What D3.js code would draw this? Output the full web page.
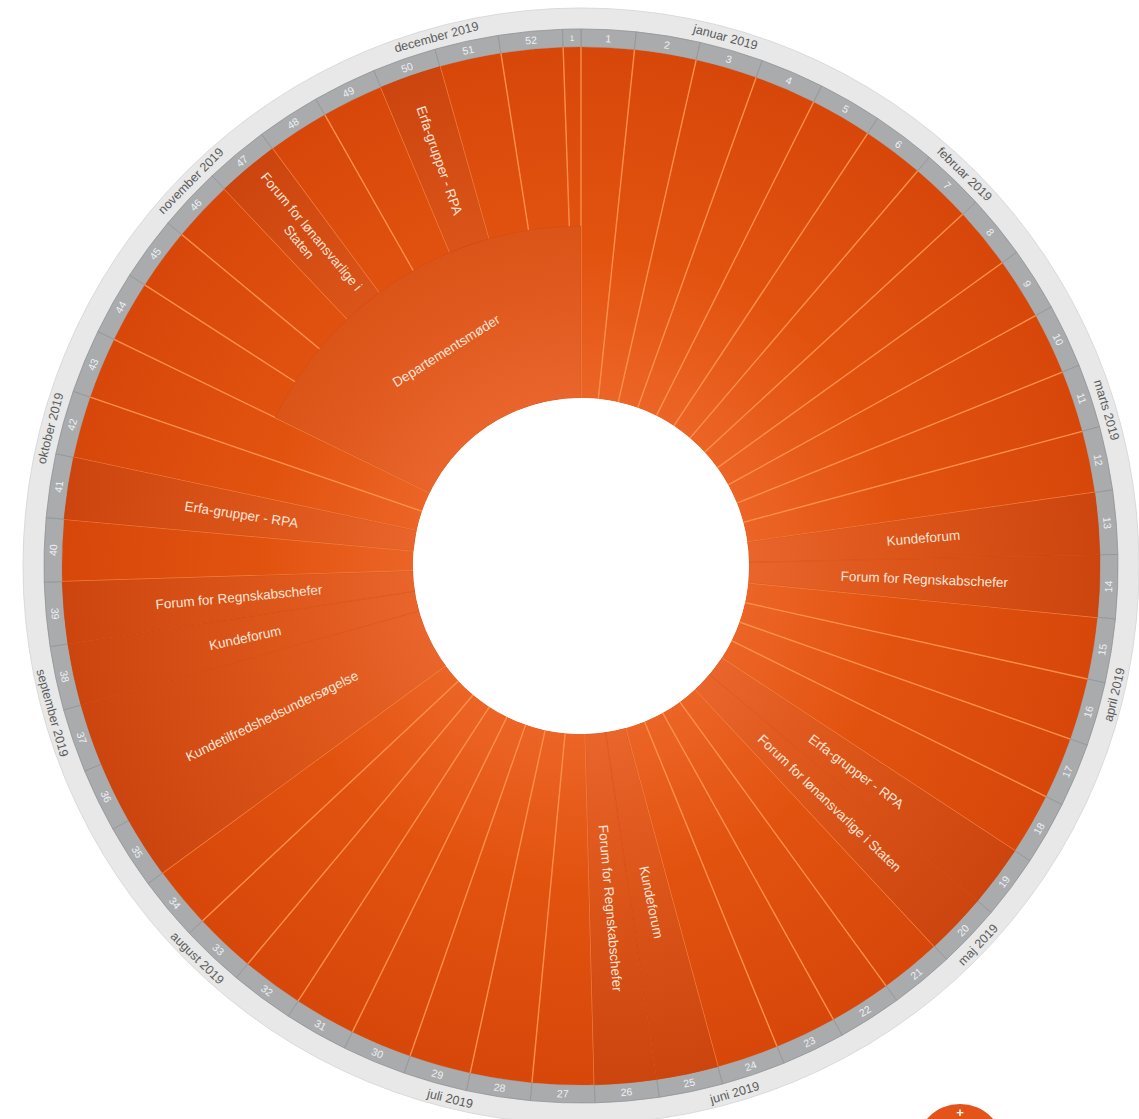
<!DOCTYPE html>
<html>
<head>
<meta charset="utf-8">
<script src="https://cdnjs.cloudflare.com/ajax/libs/d3/7.8.5/d3.min.js"></script>
<style>
  body { margin: 0; background: #fff; }
  svg { display: block; font-family: "Liberation Sans", Arial, sans-serif; }
</style>
</head>
<body>
<svg class="svg" width="1139" height="1119"></svg>
<script>
// årshjul 2019
let months = ['januar 2019','februar 2019','marts 2019','april 2019','maj 2019','juni 2019',
    'juli 2019','august 2019','september 2019','oktober 2019','november 2019','december 2019'];

let eventNames = ['Kundeforum','Forum for Regnskabschefer','Erfa-grupper - RPA','Forum for lønansvarlige i Staten',
    'Kundeforum','Forum for Regnskabschefer','Kundetilfredshedsundersøgelse','Kundeforum',
    'Forum for Regnskabschefer','Erfa-grupper - RPA','Departementsmøder','Forum for lønansvarlige i Staten',
    'Erfa-grupper - RPA'];
let eventStart = ['2019-03-25','2019-04-01','2019-05-06','2019-05-13','2019-06-17','2019-06-24','2019-08-26',
    '2019-09-16','2019-09-23','2019-10-07','2019-10-28','2019-11-18','2019-12-09'];
let eventEnd = ['2019-03-31','2019-04-07','2019-05-12','2019-05-19','2019-06-23','2019-06-30','2019-09-15',
    '2019-09-22','2019-09-29','2019-10-13','2019-12-31','2019-11-24','2019-12-15'];

let cx = 581, cy = 566;
let rInner = 168, rOuter = 519, rWeek = 537, rMonth = 558;

let parse = d3.utcParse('%Y-%m-%d');
let yearStart = parse('2019-01-01'), yearEnd = parse('2020-01-01');
let nDays = d3.utcDay.count(yearStart, yearEnd);
let angle = d3.scaleLinear().domain([0, nDays]).range([0, 2 * Math.PI]);
let dayOf = d => d3.utcDay.count(yearStart, d);

// weeks (ISO) clipped to the year
let mondays = d3.utcMonday.range(yearStart, yearEnd);
let weekStarts = [yearStart].concat(mondays.filter(d => +d !== +yearStart));
let weeks = weekStarts.map((d, i) => ({
    num: +d3.utcFormat('%V')(d),
    s: dayOf(d),
    e: i < weekStarts.length - 1 ? dayOf(weekStarts[i + 1]) : nDays
}));

let monthArr = d3.utcMonth.range(yearStart, yearEnd).map((d, i) => ({
    name: months[i], s: dayOf(d), e: dayOf(d3.utcMonth.offset(d, 1))
}));

let events = eventNames.map((n, i) => ({
    name: n, s: dayOf(parse(eventStart[i])), e: dayOf(parse(eventEnd[i])) + 1
}));
// overlapping events share the ring: the longest goes inside
let rSplit = 340;
events.forEach(ev => {
    let others = events.filter(o => o !== ev && o.s < ev.e && ev.s < o.e);
    if (others.length === 0) { ev.r0 = rInner; ev.r1 = rOuter; }
    else if (others.every(o => (o.e - o.s) < (ev.e - ev.s))) { ev.r0 = rInner; ev.r1 = rSplit; }
    else { ev.r0 = rSplit; ev.r1 = rOuter; }
});

let svg = d3.select('.svg');
let defs = svg.append('defs');

function radialGrad(id, stops) {
    let g = defs.append('radialGradient').attr('id', id).attr('gradientUnits', 'userSpaceOnUse')
        .attr('cx', 0).attr('cy', 0).attr('r', rOuter);
    stops.forEach(s => g.append('stop').attr('offset', s[0]).attr('stop-color', s[1]));
}
radialGrad('baseGrad', [[0.32, '#ec6526'], [0.62, '#e2520f'], [1, '#d7470a']]);
radialGrad('evGrad', [[0.32, '#e9652c'], [0.62, '#dc5519'], [1, '#cc450f']]);

let g = svg.append('g').attr('transform', 'translate(' + cx + ',' + cy + ')');
let arc = d3.arc();

// month ring
g.append('path')
    .attr('d', arc({innerRadius: rWeek, outerRadius: rMonth, startAngle: 0, endAngle: 2 * Math.PI}))
    .attr('fill', '#e8e8e8').attr('stroke', '#dadada');

// week ring
g.selectAll('.weekCell').data(weeks).enter().append('path')
    .attr('class', 'weekCell')
    .attr('d', d => arc({innerRadius: rOuter, outerRadius: rWeek, startAngle: angle(d.s), endAngle: angle(d.e)}))
    .attr('fill', '#a9abad').attr('stroke', '#929598').attr('stroke-width', 0.8);

// orange week sectors
g.selectAll('.weekSector').data(weeks).enter().append('path')
    .attr('class', 'weekSector')
    .attr('d', d => arc({innerRadius: rInner, outerRadius: rOuter, startAngle: angle(d.s), endAngle: angle(d.e)}))
    .attr('fill', 'url(#baseGrad)');

// week separator lines
g.selectAll('.weekLine').data(weeks).enter().append('line')
    .attr('class', 'weekLine')
    .attr('x1', d => rInner * Math.sin(angle(d.s)))
    .attr('y1', d => -rInner * Math.cos(angle(d.s)))
    .attr('x2', d => rOuter * Math.sin(angle(d.s)))
    .attr('y2', d => -rOuter * Math.cos(angle(d.s)))
    .attr('stroke', '#fb8f4a').attr('stroke-width', 1.4);

// events
g.selectAll('.event').data(events).enter().append('path')
    .attr('class', 'event')
    .attr('d', d => arc({innerRadius: d.r0, outerRadius: d.r1, startAngle: angle(d.s), endAngle: angle(d.e)}))
    .attr('fill', 'url(#evGrad)').attr('stroke', '#c9430f').attr('stroke-width', 0.6).attr('stroke-opacity', 0.5);

function deg(a) { return a * 180 / Math.PI; }
function tangentRot(a) { let d = deg(a); return (d > 90 && d < 270) ? d - 180 : d; }
function radialRot(a) { let d = deg(a); return d < 180 ? d - 90 : d + 90; }
function place(sel, r, a, rot) {
    sel.attr('transform', 'translate(' + (r * Math.sin(a)) + ',' + (-r * Math.cos(a)) + ') rotate(' + rot + ')');
}

// event labels
events.forEach(ev => {
    let a = angle((ev.s + ev.e) / 2);
    let rm = (ev.r0 + ev.r1) / 2;
    let arcLen = rm * (angle(ev.e) - angle(ev.s));
    let radLen = ev.r1 - ev.r0;
    let tangential = arcLen > radLen;
    let lg = g.append('g');
    place(lg, rm, a, tangential ? tangentRot(a) : radialRot(a));
    let t = lg.append('text').attr('text-anchor', 'middle').attr('fill', '#fbe6da')
        .style('font-size', '13.5px');
    let maxW = (tangential ? arcLen : radLen) - 12;
    let words = ev.name.split(' '), lines = [], cur = [];
    let probe = t.append('tspan');
    words.forEach(w => {
        probe.text(cur.concat([w]).join(' '));
        if (probe.node().getComputedTextLength() > maxW && cur.length) { lines.push(cur.join(' ')); cur = [w]; }
        else cur.push(w);
    });
    lines.push(cur.join(' '));
    probe.remove();
    let lh = 1.2;
    lines.forEach((l, i) => {
        t.append('tspan').attr('x', 0)
            .attr('dy', (i === 0 ? (-(lines.length - 1) * lh / 2 + 0.35) : lh) + 'em')
            .text(l);
    });
});

// week labels
g.selectAll('.weekLabel').data(weeks).enter().append('text')
    .attr('class', 'weekLabel')
    .attr('text-anchor', 'middle').attr('dy', '0.35em')
    .attr('fill', '#eef1f4').style('font-size', d => (d.e - d.s) < 4 ? '8px' : '10.5px')
    .each(function (d) { let a = angle((d.s + d.e) / 2); place(d3.select(this), (rOuter + rWeek) / 2, a, tangentRot(a)); })
    .text(d => d.num);

// month labels
g.selectAll('.monthLabel').data(monthArr).enter().append('text')
    .attr('class', 'monthLabel')
    .attr('text-anchor', 'middle').attr('dy', '0.35em')
    .attr('fill', '#5b5b5b').style('font-size', '12.5px')
    .each(function (d) { let a = angle((d.s + d.e) / 2); place(d3.select(this), (rWeek + rMonth) / 2 + 1, a, tangentRot(a)); })
    .text(d => d.name);

// white hole
g.append('circle').attr('r', rInner).attr('fill', '#fff');

// add button (partly off-screen)
svg.append('circle').attr('cx', 960).attr('cy', 1148).attr('r', 44).attr('fill', '#e3531a');
svg.append('text').attr('x', 960).attr('y', 1117).attr('text-anchor', 'middle')
    .attr('fill', '#fff').style('font-size', '13px').style('font-weight', 'bold').text('+');
</script>
</body>
</html>
